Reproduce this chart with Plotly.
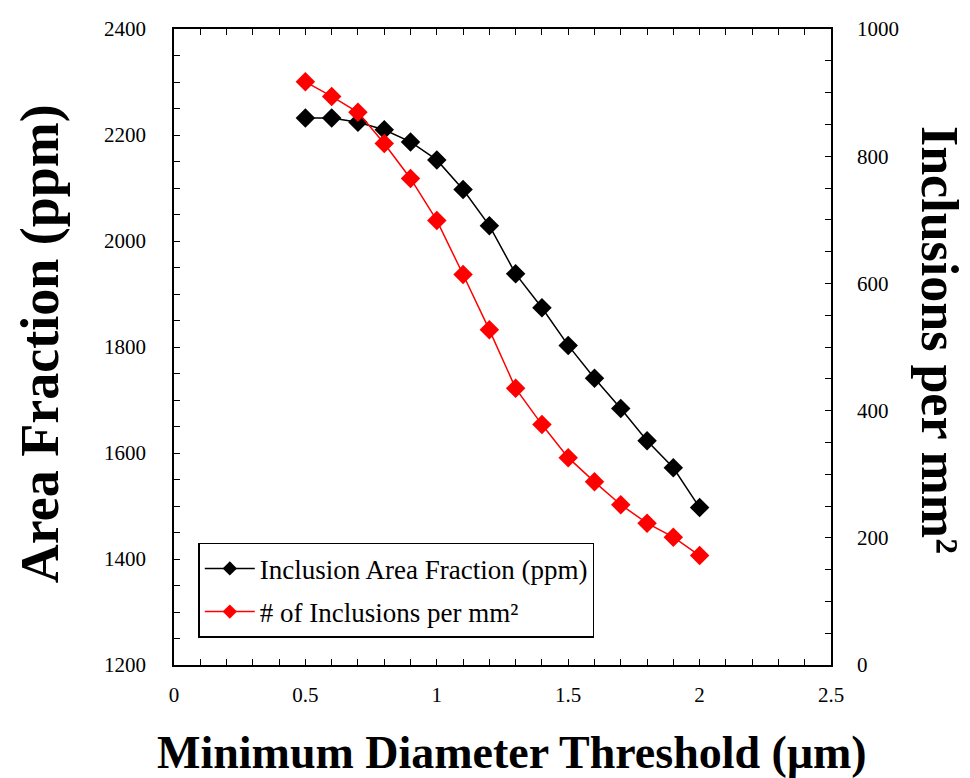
import plotly.graph_objects as go

threshold_um = [0.5, 0.6, 0.7, 0.8, 0.9, 1.0, 1.1, 1.2, 1.3, 1.4, 1.5, 1.6, 1.7, 1.8, 1.9, 2.0]
area_fraction_ppm = [2232, 2232, 2224, 2210, 2187, 2153, 2097, 2029, 1938, 1874, 1803, 1741, 1684, 1623, 1572, 1497]
inclusions_per_mm2 = [917, 894, 869, 820, 765, 699, 614, 527, 435, 378, 326, 288, 252, 223, 201, 172]

name_area = "Inclusion Area Fraction (ppm)"
name_count = "# of Inclusions per mm²"

FONT = "Liberation Serif"

fig = go.Figure()
fig.add_trace(go.Scatter(
    x=threshold_um, y=area_fraction_ppm, name=name_area, mode="lines+markers",
    showlegend=False,
    line=dict(color="black", width=1.5),
    marker=dict(symbol="diamond", size=15, color="black"),
    yaxis="y"))
fig.add_trace(go.Scatter(
    x=threshold_um, y=inclusions_per_mm2, name=name_count, mode="lines+markers",
    showlegend=False,
    line=dict(color="red", width=1.5),
    marker=dict(symbol="diamond", size=15, color="red"),
    yaxis="y2"))
# legend entries (smaller symbols, as in the original legend)
fig.add_trace(go.Scatter(
    x=[None], y=[None], name=name_area, mode="lines+markers", legendgroup="a",
    line=dict(color="black", width=1.5),
    marker=dict(symbol="diamond", size=11, color="black")))
fig.add_trace(go.Scatter(
    x=[None], y=[None], name=name_count, mode="lines+markers", legendgroup="b",
    line=dict(color="red", width=1.5),
    marker=dict(symbol="diamond", size=11, color="red")))

axis_common = dict(
    showline=True, linecolor="black", linewidth=1.5, showgrid=False, zeroline=False,
    ticks="inside", ticklen=6, tickcolor="black", tickwidth=1, automargin=False,
    tickfont=dict(family=FONT, size=21, color="black"),
)

fig.update_layout(
    width=962, height=770,
    margin=dict(l=166, r=139, t=21, b=113, autoexpand=False),
    paper_bgcolor="white", plot_bgcolor="white",
    font=dict(family=FONT, color="black"),
    xaxis=dict(range=[0, 2.5], dtick=0.5, mirror="ticks",
               minor=dict(dtick=0.1, ticks="inside", ticklen=6, tickcolor="black"),
               ticklabelstandoff=10,
               **axis_common),
    yaxis=dict(range=[1200, 2400], dtick=200,
               minor=dict(dtick=50, ticks="inside", ticklen=6, tickcolor="black"),
               ticklabelstandoff=22,
               **axis_common),
    yaxis2=dict(range=[0, 1000], dtick=200, overlaying="y", side="right",
                minor=dict(dtick=50, ticks="inside", ticklen=6, tickcolor="black"),
                ticklabelstandoff=20,
                **axis_common),
    legend=dict(x=0.037, y=0.192, xanchor="left", yanchor="top",
                bordercolor="black", borderwidth=1.5, bgcolor="white",
                font=dict(family=FONT, size=27, color="black"),
                itemwidth=50, tracegroupgap=5),
    showlegend=True,
    annotations=[
        dict(text="<b>Minimum Diameter Threshold (μm)</b>",
             xref="paper", yref="paper", x=0.514, y=-0.137,
             xanchor="center", yanchor="middle", showarrow=False,
             font=dict(family=FONT, size=46, color="black")),
        dict(text="<b>Area Fraction (ppm)</b>", textangle=-90,
             xref="paper", yref="paper", x=-0.204, y=0.506,
             xanchor="center", yanchor="middle", showarrow=False,
             font=dict(family=FONT, size=54, color="black")),
        dict(text="<b>Inclusions per mm²</b>", textangle=90,
             xref="paper", yref="paper", x=1.166, y=0.511,
             xanchor="center", yanchor="middle", showarrow=False,
             font=dict(family=FONT, size=52, color="black")),
    ],
)

fig.write_html("out.html")
